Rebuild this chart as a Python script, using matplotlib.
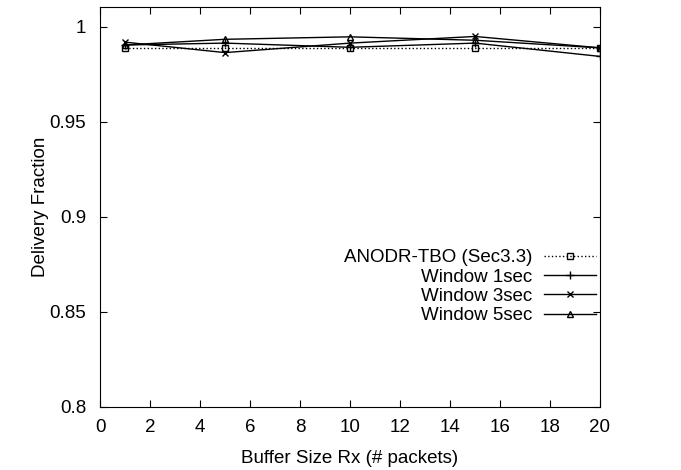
import matplotlib
matplotlib.use("Agg")
from matplotlib import pyplot as plt
from matplotlib.ticker import FuncFormatter

plt.rcParams['font.family'] = ['Liberation Sans', 'DejaVu Sans']

# buffer sizes
x = [1, 5, 10, 15, 20]

# delivery fraction per scheme
anodr = [0.989, 0.989, 0.989, 0.989, 0.989]
win1 = [0.9905, 0.9915, 0.9893, 0.9915, 0.9845]
win3 = [0.992, 0.9865, 0.9915, 0.995, 0.989]
win5 = [0.9905, 0.9935, 0.9948, 0.993, 0.989]

labels = ["ANODR-TBO (Sec3.3)", "Window 1sec", "Window 3sec", "Window 5sec"]

fs = 13.5

fig = plt.figure(figsize=(6.81, 4.70), dpi=100)
ax = fig.add_axes([100/681, 63/470, 500/681, 400/470])

ax.plot(x, anodr, color='black', lw=1, ls=':', marker='s', ms=5, mfc='none', mew=1, label=labels[0])
ax.plot(x, win1, color='black', lw=1, marker='+', ms=6, mew=1, label=labels[1])
ax.plot(x, win3, color='black', lw=1, marker='x', ms=5, mew=1, label=labels[2])
ax.plot(x, win5, color='black', lw=1, marker='^', ms=5, mfc='none', mew=1, label=labels[3])

ax.set_xlim(0, 20)
ax.set_ylim(0.8, 1.0105)
ax.set_xticks(range(0, 21, 2))
ax.set_yticks([0.8, 0.85, 0.9, 0.95, 1.0])
ax.yaxis.set_major_formatter(FuncFormatter(lambda v, p: ("%g" % round(v, 2))))
ax.tick_params(direction='in', top=True, right=True, labelsize=fs, length=5)
ax.tick_params(axis='x', pad=9)
ax.tick_params(axis='y', pad=10)

ax.set_xlabel("Buffer Size Rx (# packets)", fontsize=fs, labelpad=10)
ax.set_ylabel("Delivery Fraction", fontsize=fs, labelpad=0)

ax.legend(loc='upper right', bbox_to_anchor=(0.992, 0.395), frameon=False,
          markerfirst=False, fontsize=fs, handlelength=2.8, handletextpad=0.6,
          labelspacing=0.12, borderpad=0, borderaxespad=0)

fig.savefig("out.png", dpi=100)
